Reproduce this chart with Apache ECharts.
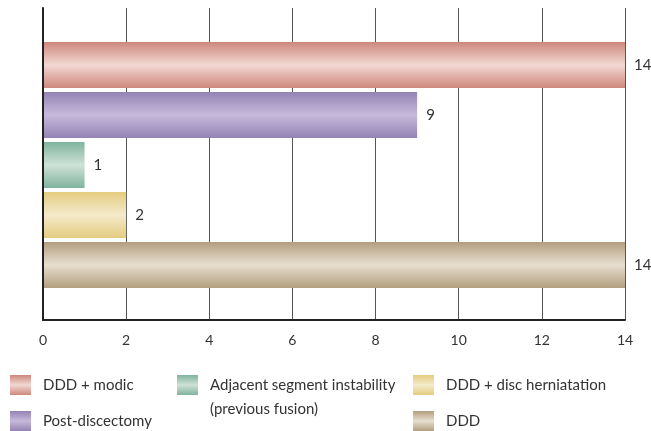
<!DOCTYPE html>
<html>
<head>
<meta charset="utf-8">
<script src="https://cdn.jsdelivr.net/npm/echarts@6/dist/echarts.min.js"></script>
<style>
  html, body { margin: 0; padding: 0; background: #fff; }
  #chart { width: 651px; height: 431px; }
</style>
</head>
<body>
<div id="chart"></div>
<script>
// Categories, top to bottom
const categories = [
  'DDD + modic',
  'Post-discectomy',
  'Adjacent segment instability\n(previous fusion)',
  'DDD + disc herniatation',
  'DDD'
];
const counts = [14, 9, 1, 2, 14];
const xTicks = [0, 2, 4, 6, 8, 10, 12, 14];

// Edge / centre colours for the tube-like shading of each bar
const edgeColors = ['#cd877c', '#9383b4', '#80b39d', '#e4cc80', '#b29e7e'];
const midColors  = ['#f2d8d3', '#c6badb', '#cfe2d8', '#f4eacb', '#e8dfd0'];

const FONT = 'Lato';
const TEXT = '#333333';

function tube(i) {
  return new echarts.graphic.LinearGradient(0, 0, 0, 1, [
    { offset: 0, color: edgeColors[i] },
    { offset: 0.5, color: midColors[i] },
    { offset: 1, color: edgeColors[i] }
  ]);
}

const series = categories.map((name, i) => ({
  name: name,
  type: 'bar',
  xAxisIndex: 1,
  yAxisIndex: 1,
  stack: 'all',
  barCategoryGap: '8%',
  itemStyle: { color: tube(i) },
  label: {
    show: true,
    position: 'right',
    distance: 9,
    color: TEXT,
    fontFamily: FONT,
    fontSize: 15
  },
  data: counts.map((v, j) => (j === i ? v : '-'))
}));

const legendText = { color: TEXT, fontFamily: FONT, fontSize: 15, padding: [0, 0, 0, 7] };
const legendBase = {
  orient: 'vertical', padding: 0,
  itemWidth: 21, itemHeight: 20, itemGap: 16,
  icon: 'rect', selectedMode: false
};

const chart = echarts.init(document.getElementById('chart'));
chart.setOption({
  animation: false,
  grid: [
    { left: 43, right: 26, top: 8, bottom: 111 },
    { left: 43, right: 26, top: 40, height: 250 }
  ],
  xAxis: [
    {
      gridIndex: 0,
      type: 'value',
      min: 0, max: 14, interval: 2,
      axisLine: { show: true, lineStyle: { color: '#222', width: 2 } },
      axisTick: { show: false },
      axisLabel: {
        margin: 13, color: TEXT, fontFamily: FONT, fontSize: 14,
        formatter: v => (xTicks.indexOf(v) >= 0 ? String(v) : '')
      },
      splitLine: { show: true, lineStyle: { color: '#555', width: 1 } }
    },
    {
      gridIndex: 1,
      type: 'value',
      min: 0, max: 14,
      show: false
    }
  ],
  yAxis: [
    {
      gridIndex: 0,
      type: 'value',
      z: 10,
      axisLine: { show: true, lineStyle: { color: '#222', width: 2 } },
      axisTick: { show: false },
      axisLabel: { show: false },
      splitLine: { show: false }
    },
    {
      gridIndex: 1,
      type: 'category',
      inverse: true,
      data: categories,
      show: false
    }
  ],
  legend: [
    Object.assign({}, legendBase, {
      left: 10, top: 375,
      textStyle: legendText,
      data: [categories[0], categories[1]]
    }),
    Object.assign({}, legendBase, {
      left: 177, top: 349,
      // leading blank line keeps the first text line level with the swatch
      formatter: name => '\n' + name,
      textStyle: Object.assign({}, legendText, { lineHeight: 24 }),
      data: [categories[2]]
    }),
    Object.assign({}, legendBase, {
      left: 413, top: 375,
      textStyle: legendText,
      data: [categories[3], categories[4]]
    })
  ],
  series: series
});
</script>
</body>
</html>
